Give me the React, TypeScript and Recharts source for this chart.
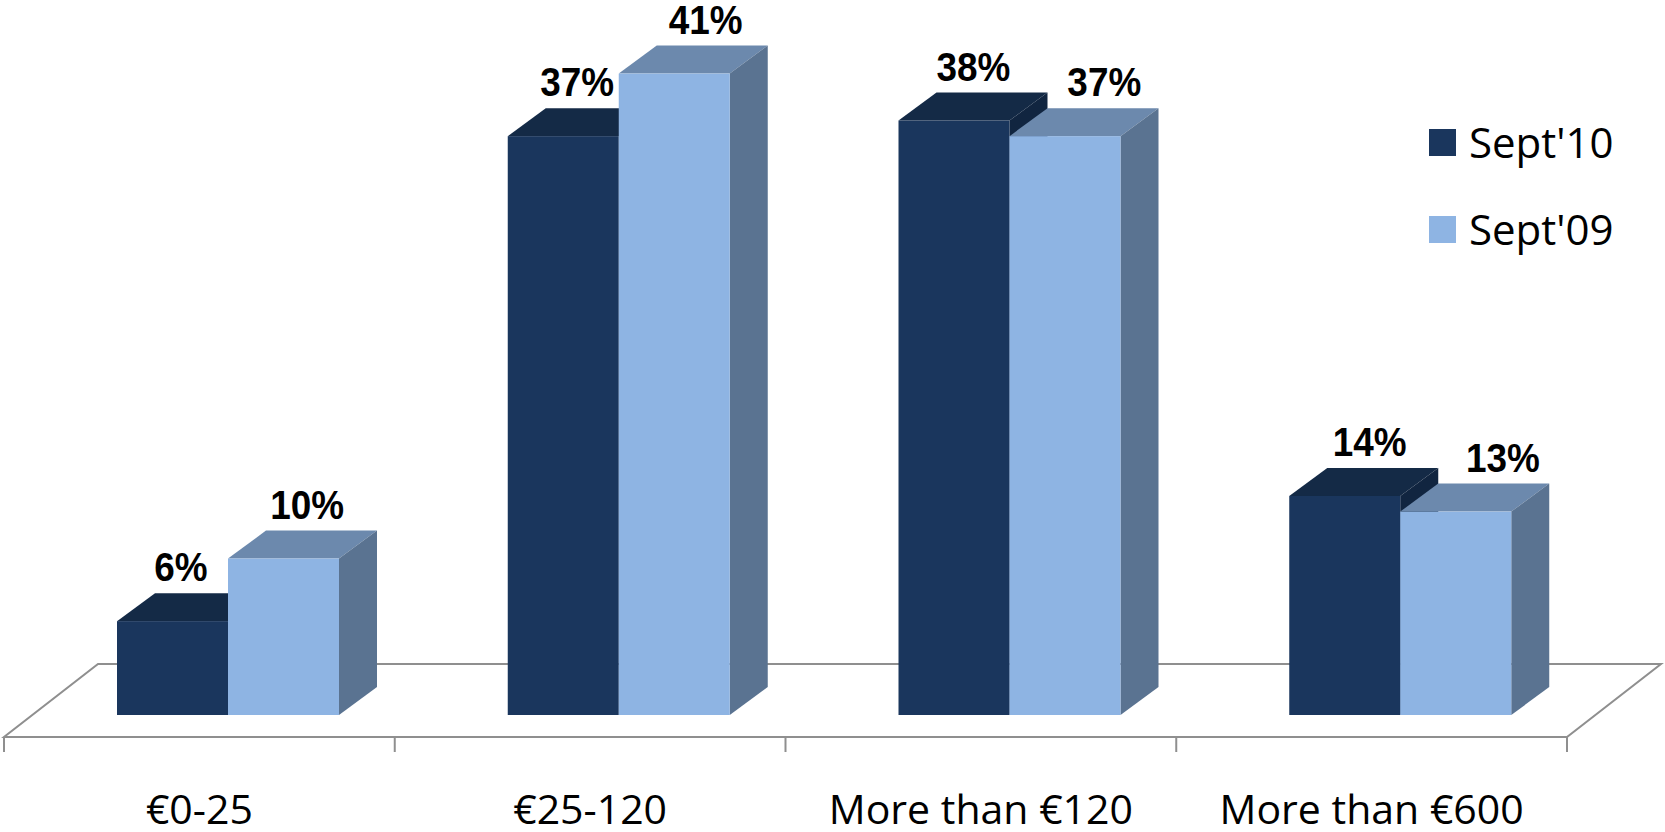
import React from 'react'
import { BarChart, Bar, XAxis, YAxis, LabelList, Legend, Customized } from 'recharts'

const categories = ['€0-25', '€25-120', 'More than €120', 'More than €600']
const sept10 = [6, 37, 38, 14]
const sept09 = [10, 41, 37, 13]
const seriesNames = ["Sept'10", "Sept'09"]

const data = categories.map((name, i) => ({ name, sept10: sept10[i], sept09: sept09[i] }))

const W = 1665
const H = 832
const margin = { top: 33, right: 98, bottom: 35, left: 4 }
const AXIS_H = 60
const AXIS_Y = H - margin.bottom - AXIS_H
const PLOT_L = margin.left
const PLOT_R = W - margin.right
const BAND = (PLOT_R - PLOT_L) / categories.length

// 3D projection: bars sit a bit back on the floor, and have depth
const SHIFT_X = 29
const SHIFT_Y = -22
const DX = 38
const DY = 28
const FLOOR_DX = 94
const FLOOR_DY = 73

const GRAY = '#8f8f8f'

const dark = { front: '#1A365D', top: '#142A46', side: '#112540' }
const light = { front: '#8EB4E3', top: '#6C89AD', side: '#5A7391' }

function makeBox(c: { front: string; top: string; side: string }) {
  return (props: any) => {
    const { x, y, width, height } = props
    if (width == null || height == null) return null
    const x0 = x + SHIFT_X
    const y0 = y + SHIFT_Y
    const x1 = x0 + width
    const y1 = y0 + height
    return (
      <g>
        <polygon
          points={`${x0},${y0} ${x1},${y0} ${x1 + DX},${y0 - DY} ${x0 + DX},${y0 - DY}`}
          fill={c.top}
        />
        <polygon
          points={`${x1},${y0} ${x1 + DX},${y0 - DY} ${x1 + DX},${y1 - DY} ${x1},${y1}`}
          fill={c.side}
        />
        <rect x={x0} y={y0} width={width} height={height} fill={c.front} />
      </g>
    )
  }
}

const darkBox = makeBox(dark)
const lightBox = makeBox(light)

// labels drift right across the chart (3D label projection)
function makeLabel(base: number, drift: number) {
  return (props: any) => {
    const { x, y, width, value } = props
    const fx = x + width / 2 + SHIFT_X
    const cx = fx + base + drift * fx
    const cy = y + SHIFT_Y - DY - 12
    return (
      <text
        transform={`translate(${cx},${cy}) scale(0.9,1)`}
        textAnchor="middle"
        fontFamily="'Liberation Sans', Arial, sans-serif"
        fontWeight={700}
        fontSize={41}
        fill="#000"
      >
        {value}%
      </text>
    )
  }
}

const darkLabel = makeLabel(6, 0.014)
const lightLabel = makeLabel(18, 0.02)

function CatTick(props: any) {
  const { x, y, payload, index } = props
  const left = x - BAND / 2
  const right = x + BAND / 2
  return (
    <g>
      <line x1={left} y1={y} x2={left} y2={y + 15} stroke={GRAY} strokeWidth={2} />
      {index === categories.length - 1 && (
        <line x1={right} y1={y} x2={right} y2={y + 15} stroke={GRAY} strokeWidth={2} />
      )}
      <text
        x={x}
        y={y + 87}
        textAnchor="middle"
        fontFamily="'Open Sans', sans-serif"
        fontSize={41}
        fill="#000"
      >
        {payload.value}
      </text>
    </g>
  )
}

function Floor() {
  const pts = [
    [PLOT_L, AXIS_Y],
    [PLOT_R, AXIS_Y],
    [PLOT_R + FLOOR_DX, AXIS_Y - FLOOR_DY],
    [PLOT_L + FLOOR_DX, AXIS_Y - FLOOR_DY],
  ]
  return (
    <polygon
      points={pts.map((p) => p.join(',')).join(' ')}
      fill="#fff"
      stroke={GRAY}
      strokeWidth={2}
    />
  )
}

function LegendBox() {
  const colors = [dark.front, light.front]
  return (
    <div style={{ display: 'flex', flexDirection: 'column', gap: 45 }}>
      {seriesNames.map((n, i) => (
        <div key={n} style={{ display: 'flex', alignItems: 'center', height: 42 }}>
          <div style={{ width: 27, height: 27, background: colors[i], marginRight: 13 }} />
          <span
            style={{
              fontFamily: "'Open Sans', sans-serif",
              fontSize: 42,
              lineHeight: '42px',
              color: '#000',
              whiteSpace: 'nowrap',
            }}
          >
            {n}
          </span>
        </div>
      ))}
    </div>
  )
}

export default function App() {
  return (
    <div style={{ position: 'absolute', left: 0, top: 0, width: W, height: H, background: '#fff' }}>
      <BarChart width={W} height={H} data={data} margin={margin} barGap={0} barSize={111}>
        <Customized component={<Floor />} />
        <XAxis
          dataKey="name"
          height={AXIS_H}
          axisLine={{ stroke: GRAY, strokeWidth: 2 }}
          tickLine={false}
          tickSize={0}
          tickMargin={0}
          interval={0}
          tick={(p: any) => <CatTick {...p} />}
        />
        <YAxis hide domain={[0, 45]} />
        <Legend
          layout="vertical"
          align="center"
          verticalAlign="middle"
          wrapperStyle={{ left: 1429, top: 121, width: 'auto', height: 'auto' }}
          content={() => <LegendBox />}
        />
        <Bar dataKey="sept10" name={seriesNames[0]} shape={darkBox} isAnimationActive={false}>
          <LabelList dataKey="sept10" content={darkLabel} />
        </Bar>
        <Bar dataKey="sept09" name={seriesNames[1]} shape={lightBox} isAnimationActive={false}>
          <LabelList dataKey="sept09" content={lightLabel} />
        </Bar>
      </BarChart>
    </div>
  )
}
